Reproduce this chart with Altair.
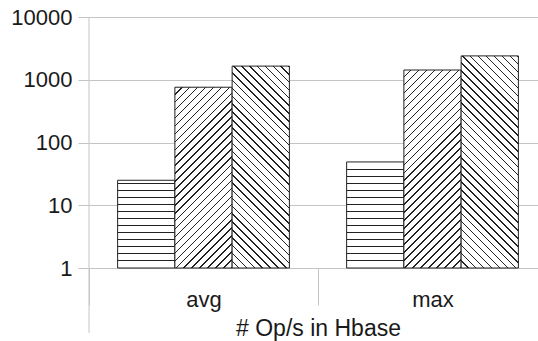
import math
import altair as alt
import pandas as pd

# ---- data ----
categories = ["avg", "max"]
series = ["horizontal", "forward", "backward"]
avg_values = [25, 760, 1650]
max_values = [49, 1430, 2400]
y_ticks = [1, 10, 100, 1000, 10000]
x_title = "# Op/s in Hbase"

rows = []
for cat, vals in zip(categories, [avg_values, max_values]):
    for s, v in zip(series, vals):
        rows.append({"id": len(rows), "category": cat, "series": s, "value": v})
df = pd.DataFrame(rows)

# ---- layout ----
PLOT_W = 449
PLOT_H = 251
RANGE_W = 458
OUTER = 0.5
BAR_W = RANGE_W / 2 / (3 + 2 * OUTER)
GRID = "#c4c4c4"
TEXT = "#1a1a1a"
INK = "#222222"
FONT = "Liberation Sans"


def stop(o, c):
    return {"offset": round(min(1.0, max(0.0, o)), 5), "color": c}


def hatch(kind, h, w=BAR_W):
    stops = []
    if kind == "horizontal":
        # pixel-aligned horizontal lines counted up from the bar's base
        period = 7
        offs = []
        j = 1
        while period * j + 1 < h - 2:
            offs.append((1 - (period * j + 1) / h, 1 - (period * j) / h))
            j += 1
        offs.sort()
        stops.append(stop(0, "#ffffff"))
        for a, b in offs:
            stops += [stop(a, "#ffffff"), stop(a, INK), stop(b, INK), stop(b, "#ffffff")]
        stops.append(stop(1, "#ffffff"))
        g = {"gradient": "linear", "stops": stops, "x1": 0, "y1": 0, "x2": 0, "y2": 1}
        return g
    period, lw = 5.6, 1.1
    k = (w + h) / (w * w + h * h)
    length = (w + h) / math.sqrt(2)
    if kind == "forward":
        coords = dict(x1=0, y1=0, x2=k * w, y2=k * h)
    else:
        coords = dict(x1=0, y1=1, x2=k * w, y2=1 - k * h)
    n = max(1, round(length / period))
    f = lw / length
    for i in range(n):
        a = i / n
        b = (i + 1) / n
        m = max(a, b - f)
        stops += [stop(a, "#ffffff"), stop(m, "#ffffff"), stop(m, INK), stop(b, INK)]
    g = {"gradient": "linear", "stops": stops}
    g.update(coords)
    return g


x_enc = alt.X(
    "category:N",
    scale=alt.Scale(domain=categories, range=[0, RANGE_W], paddingInner=0, paddingOuter=0),
    axis=alt.Axis(
        title=x_title,
        labelAngle=0,
        labelFontSize=22,
        labelFont=FONT,
        labelColor=TEXT,
        labelPadding=-16,
        tickBand="extent",
        tickSize=37,
        tickColor=GRID,
        domainColor=GRID,
        titleFontSize=23,
        titleFont=FONT,
        titleFontWeight="normal",
        titleColor=TEXT,
        titleBaseline="alphabetic",
        titleY=67,
        grid=False,
    ),
)
xo_enc = alt.XOffset(
    "series:N", scale=alt.Scale(domain=series, paddingInner=0, paddingOuter=OUTER)
)
y_enc = alt.Y(
    "value:Q",
    stack=None,
    scale=alt.Scale(type="log", domain=[1, 10000]),
    axis=alt.Axis(
        title=None,
        values=y_ticks,
        format="d",
        labelFontSize=22,
        labelFont=FONT,
        labelColor=TEXT,
        labelPadding=6,
        tickSize=11,
        tickColor=GRID,
        gridColor=GRID,
        grid=True,
        domain=False,
    ),
)

base = alt.Chart(df).encode(x=x_enc, xOffset=xo_enc, y=y_enc, y2=alt.datum(1))

left_line = (
    alt.Chart(pd.DataFrame({"k": [0]}))
    .mark_rule(color=GRID, strokeWidth=1)
    .encode(x=alt.value(0), y=alt.value(0), y2=alt.value(PLOT_H + 65))
)

layers = [left_line]
for r in rows:
    h = PLOT_H * math.log10(r["value"]) / 4
    layers.append(
        base.transform_filter(alt.datum.id == r["id"]).mark_bar(
            fill=hatch(r["series"], h), stroke=INK, strokeWidth=1
        )
    )

chart = (
    alt.layer(*layers)
    .properties(
        width=PLOT_W,
        height=PLOT_H,
        autosize=alt.AutoSizeParams(type="none"),
        padding={"left": 89, "top": 17, "right": 0, "bottom": 73},
        background="white",
    )
    .configure_view(stroke=None)
)

chart.save("out.html", embed_options={"renderer": "svg", "actions": False})
